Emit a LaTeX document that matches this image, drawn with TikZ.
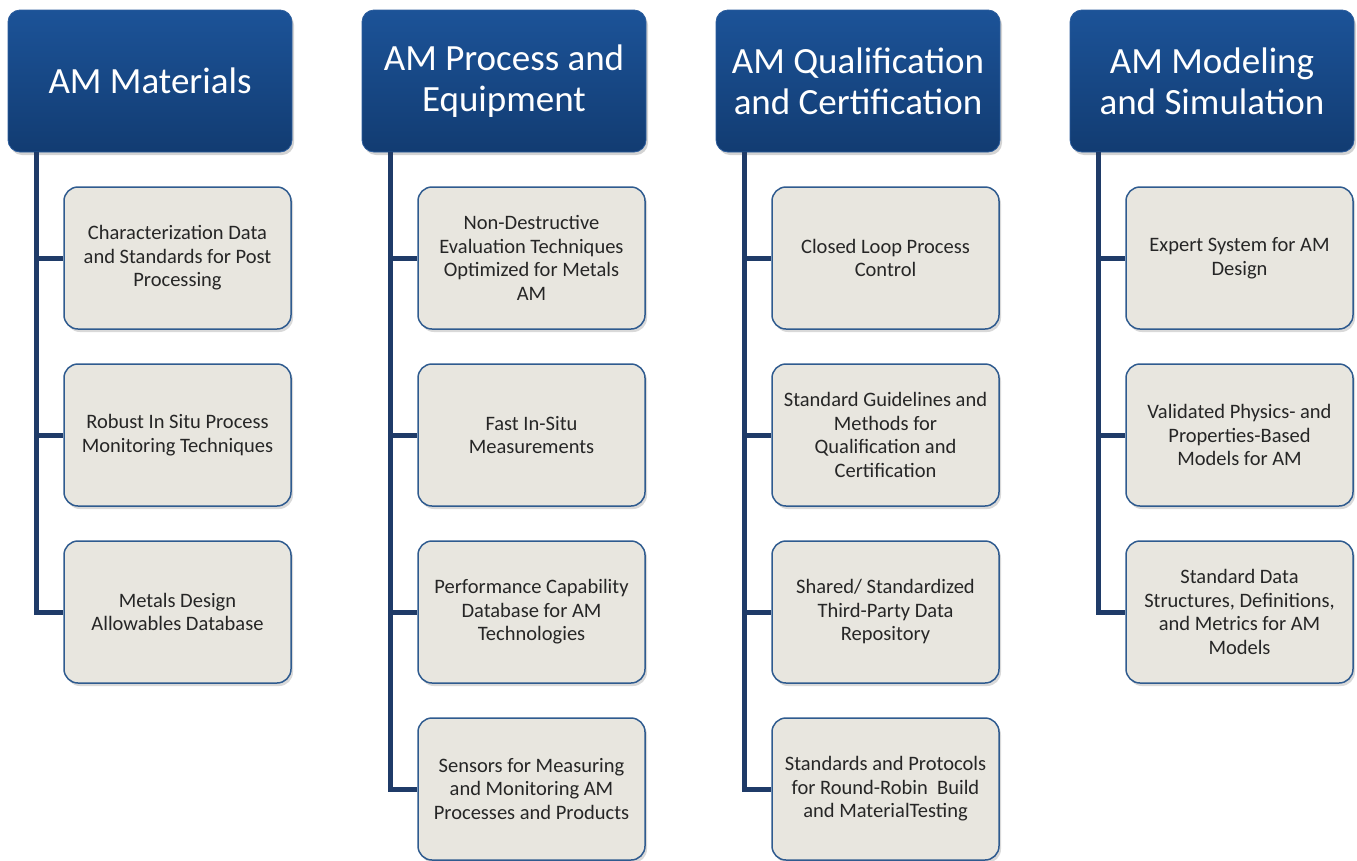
\documentclass[tikz,border=0pt]{standalone}
\usepackage{fontspec}
\setmainfont{Carlito}
\usetikzlibrary{shadows}
\definecolor{hdtop}{HTML}{1C5398}
\definecolor{hdbot}{HTML}{123C72}
\definecolor{hdline}{HTML}{2B5C9C}
\definecolor{boxfill}{HTML}{E8E6DF}
\definecolor{boxline}{HTML}{2F5B8F}
\definecolor{trunkcol}{HTML}{1F3B68}
\tikzstyle{head}=[
  rectangle,rounded corners=12pt,minimum width=284pt,minimum height=142pt,
  inner sep=0pt,top color=hdtop,bottom color=hdbot,draw=hdline,line width=0.8pt,
  text=white,align=center,font=\fontsize{37}{41}\selectfont,
  drop shadow={shadow xshift=2pt,shadow yshift=-3pt,opacity=0.35}]
\tikzstyle{task}=[
  rectangle,rounded corners=14pt,minimum width=227pt,minimum height=142pt,
  inner sep=0pt,fill=boxfill,draw=boxline,line width=1.5pt,
  text=black!85,align=center,font=\fontsize{20.5}{23.5}\selectfont,
  drop shadow={shadow xshift=2pt,shadow yshift=-3pt,opacity=0.3}]
\tikzstyle{trunk}=[draw=trunkcol,line width=5pt]

\begin{document}
\begin{tikzpicture}[x=1pt,y=-1pt]
  \useasboundingbox (0,0) rectangle (1357,860);

  % column headers
  \node[head] (mat) at (150,81) {AM Materials};
  \node[head] (proc) at (504,81) {AM Process and\\Equipment};
  \node[head] (qual) at (858,81) {AM Qualification\\and Certification};
  \node[head] (model) at (1212,81) {AM Modeling\\and Simulation};

  % materials
  \node[task] (mat1) at (177.5,258) {Characterization Data\\and Standards for Post\\Processing};
  \node[task] (mat2) at (177.5,435) {Robust In Situ Process\\Monitoring Techniques};
  \node[task] (mat3) at (177.5,612) {Metals Design\\Allowables Database};

  % process and equipment
  \node[task] (proc1) at (531.5,258) {Non-Destructive\\Evaluation Techniques\\Optimized for Metals\\AM};
  \node[task] (proc2) at (531.5,435) {Fast In-Situ\\Measurements};
  \node[task] (proc3) at (531.5,612) {Performance Capability\\Database for AM\\Technologies};
  \node[task] (proc4) at (531.5,789) {Sensors for Measuring\\and Monitoring AM\\Processes and Products};

  % qualification
  \node[task] (qual1) at (885.5,258) {Closed Loop Process\\Control};
  \node[task] (qual2) at (885.5,435) {Standard Guidelines and\\Methods for\\Qualification and\\Certification};
  \node[task] (qual3) at (885.5,612) {Shared/ Standardized\\Third-Party Data\\Repository};
  \node[task] (qual4) at (885.5,789) {Standards and Protocols\\for Round-Robin\ \ Build\\and MaterialTesting};

  % modeling
  \node[task] (model1) at (1239.5,258) {Expert System for AM\\Design};
  \node[task] (model2) at (1239.5,435) {Validated Physics- and\\Properties-Based\\Models for AM};
  \node[task] (model3) at (1239.5,612) {Standard Data\\Structures, Definitions,\\and Metrics for AM\\Models};

  % trunks
  \coordinate (matT) at (36,152);
  \coordinate (procT) at (390,152);
  \coordinate (qualT) at (744,152);
  \coordinate (modelT) at (1098,152);

  \draw[trunk] (matT) |- (mat1.west);
  \draw[trunk] (matT) |- (mat2.west);
  \draw[trunk] (matT) |- (mat3.west);

  \draw[trunk] (procT) |- (proc1.west);
  \draw[trunk] (procT) |- (proc2.west);
  \draw[trunk] (procT) |- (proc3.west);
  \draw[trunk] (procT) |- (proc4.west);

  \draw[trunk] (qualT) |- (qual1.west);
  \draw[trunk] (qualT) |- (qual2.west);
  \draw[trunk] (qualT) |- (qual3.west);
  \draw[trunk] (qualT) |- (qual4.west);

  \draw[trunk] (modelT) |- (model1.west);
  \draw[trunk] (modelT) |- (model2.west);
  \draw[trunk] (modelT) |- (model3.west);
\end{tikzpicture}
\end{document}
